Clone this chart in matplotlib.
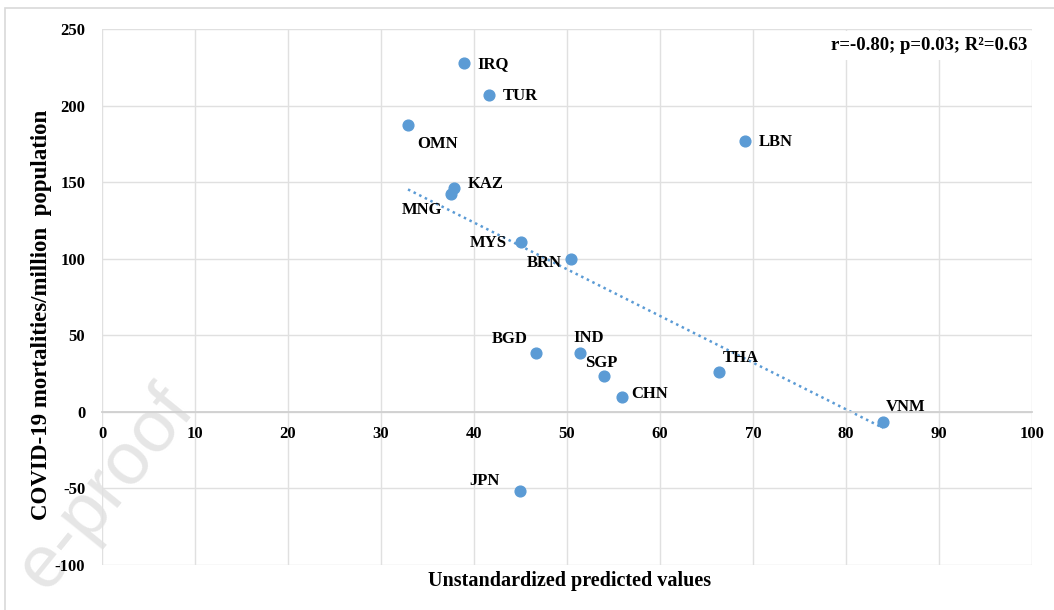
import numpy as np
import matplotlib.pyplot as plt
from matplotlib.patches import Rectangle

# dados
paises = ['IRQ', 'TUR', 'OMN', 'LBN', 'KAZ', 'MNG', 'MYS', 'BRN',
          'BGD', 'IND', 'SGP', 'CHN', 'THA', 'VNM', 'JPN']
preditos = [38.9, 41.6, 32.9, 69.1, 37.8, 37.5, 45.1, 50.4,
            46.7, 51.4, 54.0, 55.9, 66.3, 84.0, 44.9]
mortes = [228, 207, 187, 177, 146, 142, 111, 100,
          38.5, 38.5, 23.5, 10, 26, -6.5, -51.5]

# deslocamento dos rótulos (pontos)
offsets = {'IRQ': (10, -1), 'TUR': (10, -1), 'OMN': (7, -13), 'LBN': (10, -1),
           'KAZ': (10, 3), 'MNG': (-35, -11), 'MYS': (-37, -1), 'BRN': (-32, -3),
           'BGD': (-32, 10), 'IND': (-5, 11), 'SGP': (-14, 9), 'CHN': (7, 2),
           'THA': (3, 10), 'VNM': (2, 11), 'JPN': (-36, 7)}

plt.rcParams['font.family'] = 'Liberation Serif'
plt.rcParams['font.weight'] = 'bold'
plt.rcParams['axes.unicode_minus'] = False

fig = plt.figure(figsize=(10.54, 6.10), dpi=100)
ax = fig.add_axes([0.0968, 0.0738, 0.8824, 0.8787])

# moldura externa do gráfico
fig.patches.append(Rectangle((5 / 1054, -0.1), 1.2, 1 - 8 / 610 + 0.1, transform=fig.transFigure,
                             fill=False, edgecolor='#d9d9d9', linewidth=1.2))

# marca d'água
fig.text(0.1, 0.2, 'e-proof', rotation=51, fontsize=54, color='#e6e6e6',
         family='Liberation Sans', fontweight='normal', ha='center', va='center', zorder=-1)

ax.set_xlim(0, 100)
ax.set_ylim(-100, 250)
ax.set_xticks(np.arange(0, 101, 10))
ax.set_yticks(np.arange(-100, 251, 50))
ax.grid(True, color='#e0e0e0', linewidth=1)
ax.set_axisbelow(True)
ax.patch.set_alpha(0)
for s in ['left', 'right', 'top']:
    ax.spines[s].set_visible(False)
ax.spines['bottom'].set_position(('data', 0))
ax.spines['bottom'].set_color('#d0d0d0')
ax.spines['bottom'].set_linewidth(1.3)
ax.tick_params(length=0, labelsize=12)
ax.tick_params(axis='x', pad=10)
ax.tick_params(axis='y', pad=12)

# linha de tendência
x = np.array(preditos)
y = np.array(mortes)
coef = np.polyfit(x, y, 1)
xt = np.array([x.min(), x.max()])
ax.plot(xt, np.polyval(coef, xt), linestyle=(0, (1, 1.5)), color='#5b9bd5', linewidth=1.8, zorder=2)

ax.scatter(preditos, mortes, s=60, color='#5b9bd5', zorder=3)
for p, xv, yv in zip(paises, preditos, mortes):
    ax.annotate(p, (xv, yv), xytext=offsets[p], textcoords='offset points',
                fontsize=12, fontweight='bold', va='center', ha='left')

ax.text(0.995, 0.985, 'r=-0.80; p=0.03; R²=0.63', transform=ax.transAxes,
        ha='right', va='top', fontsize=13.5, fontweight='bold',
        bbox=dict(facecolor='white', edgecolor='none', pad=4))

fig.text(0.54, 0.048, 'Unstandardized predicted values', ha='center', va='center',
         fontsize=14.5, fontweight='bold')
fig.text(0.039, 0.484, 'COVID-19 mortalities/million  population', ha='center', va='center',
         rotation=90, fontsize=16.5, fontweight='bold')

fig.savefig('out.png', dpi=100)
